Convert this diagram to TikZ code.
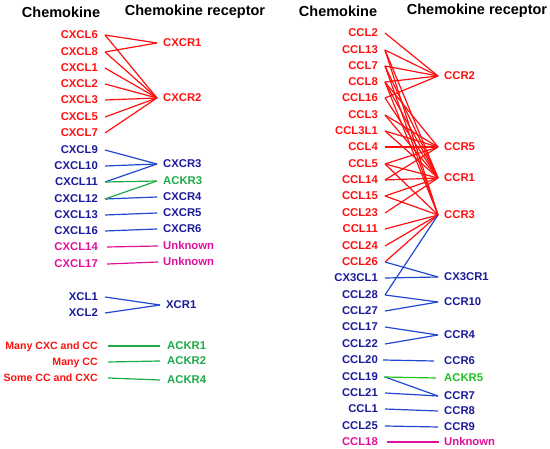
\documentclass[tikz,border=0pt]{standalone}
\usepackage{fontspec}
\setmainfont{Liberation Sans}
\definecolor{cred}{HTML}{FF1010}
\definecolor{cnavy}{HTML}{1A1A9A}
\definecolor{cblue}{HTML}{2048D0}
\definecolor{cgreen}{HTML}{1EAA4A}
\definecolor{cgreenb}{HTML}{22C022}
\definecolor{cmag}{HTML}{E0109A}
\begin{document}
\begin{tikzpicture}[x=1pt,y=-1pt,
  lab/.style={inner sep=0pt,text height=8pt,text depth=0pt,font=\bfseries\fontsize{11.3}{12}\selectfont},
  ck/.style={lab,anchor=east},
  rc/.style={lab,anchor=west},
  wide/.style={font=\bfseries\fontsize{10.6}{12}\selectfont},
  hd/.style={inner sep=0pt,font=\bfseries\fontsize{14.5}{16}\selectfont},
  rl/.style={cred,line width=1.2pt},
  bl/.style={cblue,line width=1.2pt},
  gl/.style={cgreen,line width=1.2pt},
  ml/.style={cmag,line width=1.2pt}]
\useasboundingbox (0,0) rectangle (550,449);
% headers
\node[hd] (h1) at (61,12) {Chemokine};
\node[hd] (h2) at (195,12) {Chemokine receptor};
\node[hd] (h3) at (338,11) {Chemokine};
\node[hd] (h4) at (477,11) {Chemokine receptor};
% left chemokines
\foreach \n/\t/\y/\c in {a6/CXCL6/35/cred,a8/CXCL8/52/cred,a1/CXCL1/68/cred,a2/CXCL2/84/cred,a3/CXCL3/100/cred,a5/CXCL5/117/cred,a7/CXCL7/133/cred,
  a9/CXCL9/150/cnavy,a10/CXCL10/166/cnavy,a11/CXCL11/182/cnavy,a12/CXCL12/199/cnavy,a13/CXCL13/215/cnavy,a16/CXCL16/231/cnavy,
  a14/CXCL14/247/cmag,a17/CXCL17/264/cmag,x1/XCL1/297/cnavy,x2/XCL2/313/cnavy}
  \node[ck,text=\c] (\n) at (98,\y) {\t};
\node[ck,wide,text=cred] (m1) at (98,346) {Many CXC and CC};
\node[ck,wide,text=cred] (m2) at (98,362) {Many CC};
\node[ck,wide,text=cred] (m3) at (98,378) {Some CC and CXC};
% left receptors
\foreach \n/\t/\y/\c in {r1/CXCR1/43/cred,r2/CXCR2/98/cred,r3/CXCR3/164/cnavy,k3/ACKR3/181/cgreen,r4/CXCR4/197/cnavy,r5/CXCR5/213/cnavy,r6/CXCR6/229/cnavy,
  u1/Unknown/246/cmag,u2/Unknown/262/cmag}
  \node[rc,text=\c] (\n) at (163,\y) {\t};
\node[rc,text=cnavy] (xr) at (166,305) {XCR1};
\node[rc,text=cgreen] (k1) at (167,346) {ACKR1};
\node[rc,text=cgreen] (k2) at (167,361) {ACKR2};
\node[rc,text=cgreen] (k4) at (167,380) {ACKR4};
% left connectors
\foreach \s/\r in {a6/r1,a8/r1,a6/r2,a8/r2,a1/r2,a2/r2,a3/r2,a5/r2,a7/r2}
  \draw[rl] ([xshift=7pt]\s.east) -- ([xshift=-6pt]\r.west);
\foreach \s/\r in {a9/r3,a10/r3,a11/r3,a12/r4,a13/r5,a16/r6,x1/xr,x2/xr}
  \draw[bl] ([xshift=7pt]\s.east) -- ([xshift=-6pt]\r.west);
\foreach \s/\r in {a11/k3,a12/k3}
  \draw[gl] ([xshift=7pt]\s.east) -- ([xshift=-6pt]\r.west);
\foreach \s/\r in {m1/k1,m2/k2,m3/k4}
  \draw[gl] ([xshift=10pt]\s.east) -- ([xshift=-7pt]\r.west);
\foreach \s/\r in {a14/u1,a17/u2}
  \draw[ml] ([xshift=9pt]\s.east) -- ([xshift=-5pt]\r.west);
% right chemokines
\foreach \n/\t/\y/\c in {c2/CCL2/33/cred,c13/CCL13/50/cred,c7/CCL7/66/cred,c8/CCL8/82/cred,c16/CCL16/98/cred,c3/CCL3/115/cred,c3l/CCL3L1/131/cred,
  c4/CCL4/147/cred,c5/CCL5/164/cred,c14/CCL14/180/cred,c15/CCL15/196/cred,c23/CCL23/213/cred,c11/CCL11/229/cred,c24/CCL24/246/cred,c26/CCL26/262/cred,
  cx/CX3CL1/278/cnavy,c28/CCL28/295/cnavy,c27/CCL27/311/cnavy,c17/CCL17/327/cnavy,c22/CCL22/344/cnavy,c20/CCL20/360/cnavy,c19/CCL19/377/cnavy,
  c21/CCL21/393/cnavy,c1/CCL1/409/cnavy,c25/CCL25/426/cnavy,c18/CCL18/442/cmag}
  \node[ck,text=\c] (\n) at (378,\y) {\t};
% right receptors
\foreach \n/\t/\y/\c in {q2/CCR2/76/cred,q5/CCR5/147/cred,q1/CCR1/178/cred,q3/CCR3/215/cred,qx/CX3CR1/277/cnavy,q10/CCR10/302/cnavy,
  q4/CCR4/335/cnavy,q6/CCR6/361/cnavy,k5/ACKR5/378/cgreenb,q7/CCR7/396/cnavy,q8/CCR8/411/cnavy,q9/CCR9/427/cnavy,u3/Unknown/442/cmag}
  \node[rc,text=\c] (\n) at (444,\y) {\t};
% right connectors
\foreach \s/\r in {c2/q2,c13/q2,c7/q2,c8/q2,c16/q2,
  c3/q5,c3l/q5,c4/q5,c5/q5,c8/q5,c14/q5,
  c13/q1,c7/q1,c8/q1,c16/q1,c3/q1,c3l/q1,c5/q1,c14/q1,c15/q1,c23/q1,
  c13/q3,c7/q3,c8/q3,c5/q3,c15/q3,c11/q3,c24/q3,c26/q3}
  \draw[rl] ([xshift=7pt]\s.east) -- ([xshift=-6pt]\r.west);
\foreach \s/\r in {c26/qx,cx/qx,c28/q3,c28/q10,c27/q10,c17/q4,c22/q4,c19/q7,c21/q7,c1/q8,c25/q9}
  \draw[bl] ([xshift=7pt]\s.east) -- ([xshift=-6pt]\r.west);
\draw[bl] ([xshift=5pt]c20.east) -- ([xshift=-10pt]q6.west);
\draw[gl,cgreenb] ([xshift=6pt]c19.east) -- ([xshift=-8pt]k5.west);
\draw[ml] ([xshift=9pt]c18.east) -- ([xshift=-5pt]u3.west);
\end{tikzpicture}
\end{document}
